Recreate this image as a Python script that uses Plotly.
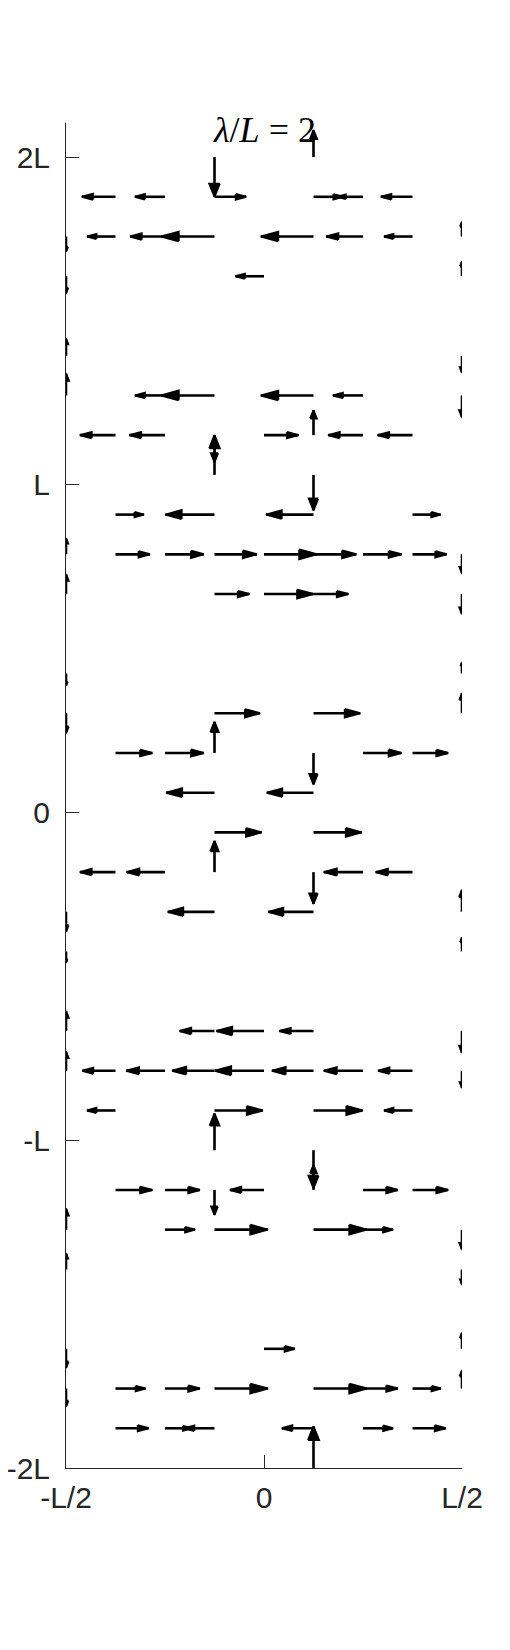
import numpy as np
import plotly.graph_objects as go

# ---------------- data (units of L) ----------------
title_text = "<i>λ</i>/<i>L</i> = 2"

x_grid = np.linspace(-0.5, 0.5, 9)     # 9 columns across the strip
y_grid = np.linspace(-2.0, 2.0, 34)    # 34 rows along the strip

x_tick_vals = [-0.5, 0.0, 0.5]
x_tick_text = ["-L/2", "0", "L/2"]
y_tick_vals = [-2, -1, 0, 1, 2]
y_tick_text = ["-2L", "-L", "0", "L", "2L"]

# each arrow: row index, column index, u (x-component), v (y-component)
arrow_row = [33, 33,
             32, 32, 32, 32, 32, 32,
             31, 31, 31, 31, 31, 31, 31, 31,
             30, 30, 30,
             28, 28,
             27, 27, 27, 27, 27, 27,
             26, 26, 26, 26, 26, 26, 26,
             25, 25,
             24, 24, 24, 24,
             23, 23, 23, 23, 23, 23, 23, 23, 23,
             22, 22, 22, 22, 22,
             20, 20,
             19, 19, 19, 19,
             18, 18, 18, 18, 18, 18,
             17, 17,
             16, 16,
             15, 15, 15, 15, 15, 15,
             14, 14, 14, 14,
             13, 13,
             11, 11, 11, 11, 11,
             10, 10, 10, 10, 10, 10, 10, 10, 10,
             9, 9, 9, 9,
             8, 8,
             7, 7, 7, 7, 7, 7, 7,
             6, 6, 6, 6, 6, 6,
             5, 5,
             3, 3, 3,
             2, 2, 2, 2, 2, 2, 2, 2,
             1, 1, 1, 1, 1, 1,
             0]
arrow_col = [3, 5,
             1, 2, 3, 5, 6, 7,
             0, 1, 2, 3, 5, 6, 7, 8,
             0, 4, 8,
             0, 8,
             0, 2, 3, 5, 6, 8,
             1, 2, 3, 4, 5, 6, 7,
             3, 5,
             1, 3, 5, 7,
             0, 1, 2, 3, 4, 5, 6, 7, 8,
             0, 3, 4, 5, 8,
             0, 8,
             0, 3, 5, 8,
             1, 2, 3, 5, 6, 7,
             3, 5,
             3, 5,
             1, 2, 3, 5, 6, 7,
             0, 3, 5, 8,
             0, 8,
             0, 3, 4, 5, 8,
             0, 1, 2, 3, 4, 5, 6, 7, 8,
             1, 3, 5, 7,
             3, 5,
             1, 2, 3, 4, 5, 6, 7,
             0, 2, 3, 5, 6, 8,
             0, 8,
             0, 4, 8,
             0, 1, 2, 3, 5, 6, 7, 8,
             1, 2, 3, 5, 6, 7,
             5]
arrow_u = [0, 0,
           -0.085, -0.076, 0.080, 0.075, -0.065, -0.080,
           0, -0.072, -0.088, -0.135, -0.133, -0.093, -0.072, 0,
           0, -0.072, 0,
           0, 0,
           0, -0.076, -0.135, -0.133, -0.076, 0,
           -0.090, -0.090, 0, 0.087, 0, -0.088, -0.088,
           0, 0,
           0.072, -0.124, -0.120, 0.071,
           0, 0.087, 0.098, 0.107, 0.133, 0.108, 0.097, 0.086, 0,
           0, 0.088, 0.125, 0.088, 0,
           0, 0,
           0, 0.115, 0.118, 0,
           0.093, 0.098, 0, 0, 0.097, 0.090,
           -0.122, -0.118,
           0.119, 0.122,
           -0.090, -0.097, 0, 0, -0.099, -0.093,
           0, -0.118, -0.114, 0,
           0, 0,
           0, -0.088, -0.120, -0.086, 0,
           0, -0.084, -0.098, -0.107, -0.124, -0.105, -0.099, -0.087, 0,
           -0.072, 0.122, 0.124, -0.072,
           0, 0,
           0.093, 0.088, 0, -0.086, 0, 0.088, 0.090,
           0, 0.076, 0.135, 0.135, 0.076, 0,
           0, 0,
           0, 0.078, 0,
           0, 0.076, 0.088, 0.135, 0.135, 0.088, 0.072, 0,
           0.084, 0.068, -0.076, -0.080, 0.076, 0.084,
           0]
arrow_v = [-0.121, 0.082,
           0, 0, 0, 0, 0, 0,
           -0.046, 0, 0, 0, 0, 0, 0, 0.045,
           -0.052, 0, 0.045,
           0.052, -0.052,
           0.067, 0, 0, 0, 0, -0.067,
           0, 0, -0.082, 0, 0.076, 0, 0,
           0.121, -0.108,
           0, 0, 0, 0,
           0.049, 0, 0, 0, 0, 0, 0, 0, -0.058,
           0.061, 0, 0, 0, -0.061,
           -0.037, 0.034,
           -0.061, 0, 0, 0.061,
           0, 0, 0.095, -0.096, 0, 0,
           0, 0,
           0, 0,
           0, 0, 0.095, -0.097, 0, 0,
           -0.061, 0, 0, 0.067,
           -0.034, 0.043,
           0.061, 0, 0, 0, -0.067,
           0.058, 0, 0, 0, 0, 0, 0, 0, -0.052,
           0, 0, 0, 0,
           0.112, -0.116,
           0, 0, -0.076, 0, 0.076, 0, 0,
           0.064, 0, 0, 0, 0, -0.061,
           0.049, -0.046,
           -0.058, 0, 0.049,
           -0.055, 0, 0, 0, 0, 0, 0, 0.055,
           0, 0, 0, 0, 0, 0,
           0.127]

# ---------------- build arrow geometry in data space ----------------
HEAD_LEN = 0.33
HEAD_WID = 0.33

shaft_x, shaft_y, head_x, head_y = [], [], [], []
for k, i, u, v in zip(arrow_row, arrow_col, arrow_u, arrow_v):
    x0, y0 = x_grid[i], y_grid[k]
    tx, ty = x0 + u, y0 + v
    shaft_x += [x0, tx, None]
    shaft_y += [y0, ty, None]
    b1x = tx - HEAD_LEN * (u + HEAD_WID * v)
    b1y = ty - HEAD_LEN * (v - HEAD_WID * u)
    b2x = tx - HEAD_LEN * (u - HEAD_WID * v)
    b2y = ty - HEAD_LEN * (v + HEAD_WID * u)
    head_x += [b1x, tx, b2x, b1x, None]
    head_y += [b1y, ty, b2y, b1y, None]

fig = go.Figure()
fig.add_trace(go.Scatter(x=shaft_x, y=shaft_y, mode="lines",
                         line=dict(color="black", width=2.6),
                         hoverinfo="skip", showlegend=False))
fig.add_trace(go.Scatter(x=head_x, y=head_y, mode="lines", fill="toself",
                         fillcolor="black",
                         line=dict(color="black", width=2.0),
                         hoverinfo="skip", showlegend=False))

axis_color = "#262626"
tick_font = dict(family="Liberation Sans, Arial, sans-serif", size=30, color=axis_color)

fig.update_layout(
    width=502, height=1642,
    margin=dict(l=58, r=48, t=115, b=182, autoexpand=False),
    paper_bgcolor="white", plot_bgcolor="white",
    showlegend=False,
    xaxis=dict(range=[-0.5, 0.5], tickvals=x_tick_vals, ticktext=x_tick_text,
               ticks="inside", ticklen=13, tickwidth=1, tickcolor=axis_color,
               showline=True, linecolor=axis_color, linewidth=1, mirror=False,
               showgrid=False, zeroline=False, tickfont=tick_font,
               ticklabelstandoff=3, automargin=False, fixedrange=True),
    yaxis=dict(range=[-2.0, 2.104], tickvals=y_tick_vals, ticktext=y_tick_text,
               ticks="inside", ticklen=13, tickwidth=1, tickcolor=axis_color,
               showline=True, linecolor=axis_color, linewidth=1, mirror=False,
               showgrid=False, zeroline=False, tickfont=tick_font,
               ticklabelstandoff=9, automargin=False, fixedrange=True),
    annotations=[dict(text=title_text, xref="x", yref="y", x=0.0, y=2.084,
                      xanchor="center", yanchor="middle", showarrow=False,
                      font=dict(family="Liberation Serif, Times New Roman, serif",
                                size=36, color="black"))],
)

fig.write_html("out.html")
